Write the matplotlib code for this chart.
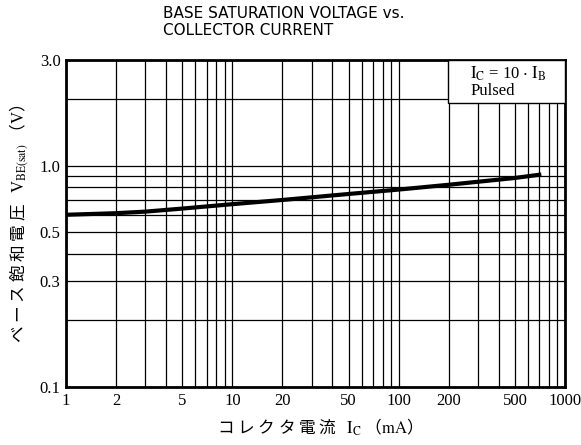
import numpy as np
import matplotlib.pyplot as plt
from matplotlib.ticker import FixedLocator, NullFormatter, LogLocator

plt.rcParams['font.family'] = ['Liberation Serif', 'Noto Sans CJK JP']
plt.rcParams['mathtext.fontset'] = 'stix'

# データ (読み取り値)
ic_ma = [1, 2, 3, 5, 10, 20, 50, 100, 200, 500, 700]
vbe_sat = [0.60, 0.61, 0.62, 0.64, 0.67, 0.70, 0.745, 0.78, 0.82, 0.88, 0.91]

x_ticks = [1, 2, 5, 10, 20, 50, 100, 200, 500, 1000]
x_labels = ['1', '2', '5', '10', '20', '50', '100', '200', '500', '1000']
y_ticks = [0.1, 0.3, 0.5, 1.0, 3.0]
y_labels = ['0.1', '0.3', '0.5', '1.0', '3.0']

fig = plt.figure(figsize=(5.81, 4.45), dpi=100)
ax = fig.add_axes([0.1136, 0.1303, 0.8589, 0.7347])

ax.set_xscale('log')
ax.set_yscale('log')
ax.set_xlim(1, 1000)
ax.set_ylim(0.1, 3.0)

# グリッド
ax.xaxis.set_major_locator(FixedLocator(x_ticks))
ax.xaxis.set_minor_locator(LogLocator(base=10, subs=np.arange(1, 10)))
ax.yaxis.set_major_locator(FixedLocator(y_ticks))
ax.yaxis.set_minor_locator(LogLocator(base=10, subs=np.arange(1, 10)))
ax.xaxis.set_minor_formatter(NullFormatter())
ax.yaxis.set_minor_formatter(NullFormatter())
ax.set_xticklabels(x_labels)
ax.set_yticklabels(y_labels)
ax.grid(True, which='both', color='black', linewidth=0.9)
ax.tick_params(which='both', length=0, labelsize=12, pad=4)

for s in ax.spines.values():
    s.set_linewidth(2)

ax.plot(ic_ma, vbe_sat, color='black', linewidth=3, zorder=3)

# 条件ボックス
box = plt.Rectangle((0.765, 0.868), 0.235, 0.132, transform=ax.transAxes,
                    facecolor='white', edgecolor='black', linewidth=1, zorder=4)
ax.add_patch(box)
ax.text(0.81, 0.985, r'$\mathrm{I_C}$ = 10 $\cdot$ $\mathrm{I_B}$', transform=ax.transAxes,
        fontsize=12, va='top', ha='left', zorder=5)
ax.text(0.81, 0.93, 'Pulsed', transform=ax.transAxes,
        fontsize=12, va='top', ha='left', zorder=5)

ax.set_xlabel(r'コ レ ク タ 電 流   $\mathrm{I_C}$ （$\mathrm{mA}$）', fontsize=12, labelpad=6,
              family='Noto Sans CJK JP')
ax.set_ylabel(r'ベ ー ス 飽 和 電 圧   $\mathrm{V_{BE(sat)}}$ （$\mathrm{V}$）', fontsize=12,
              labelpad=6, family='Noto Sans CJK JP')

fig.text(163 / 581, 1 - 6 / 445, 'BASE SATURATION VOLTAGE vs.\nCOLLECTOR CURRENT',
         family='DejaVu Sans', fontsize=11, ha='left', va='top', linespacing=1.15)

fig.savefig('out.png', dpi=100)
